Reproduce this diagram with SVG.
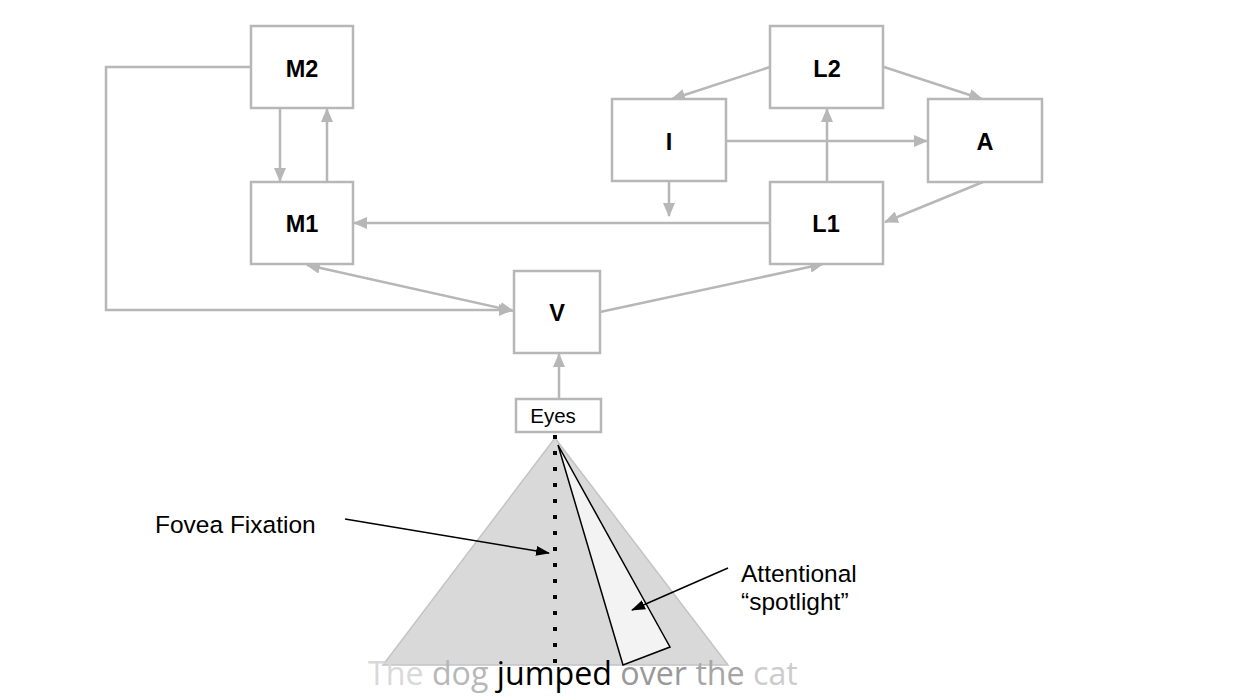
<svg xmlns="http://www.w3.org/2000/svg" width="1259" height="700" viewBox="0 0 1259 700">
<style>
.box{fill:#fff;stroke:#b7b7b7;stroke-width:2.5}
.lbl{font-family:"Liberation Sans",Arial,sans-serif;font-weight:bold;font-size:23.5px;fill:#000;text-anchor:middle}
.txt{font-family:"Liberation Sans",Arial,sans-serif;font-size:24.5px;fill:#000}
.con{fill:none;stroke:#b7b7b7;stroke-width:2.5}
.blk{fill:none;stroke:#000;stroke-width:1.5}
.sent{font-family:"Open Sans",sans-serif;font-size:32.2px}
</style>
<defs>
<marker id="ag" viewBox="0 0 14 12" refX="13" refY="6" markerWidth="14" markerHeight="12" markerUnits="userSpaceOnUse" orient="auto-start-reverse">
<path d="M0,0 L14,6 L0,12 z" fill="#b7b7b7"/>
</marker>
<marker id="ab" viewBox="0 0 14 10" refX="13" refY="5" markerWidth="14" markerHeight="10" markerUnits="userSpaceOnUse" orient="auto">
<path d="M0,0 L14,5 L0,10 z" fill="#000"/>
</marker>
</defs>
<rect width="1259" height="700" fill="#fff"/>

<g id="field">
<polygon points="555,438 383,665 728,665" fill="#d9d9d9" stroke="#c4c4c4" stroke-width="1.5"/>
<polygon points="558,445 623,665 670,647" fill="#f3f3f3" stroke="#000" stroke-width="1.5"/>
<line x1="555" y1="435" x2="555" y2="667" stroke="#000" stroke-width="4" stroke-dasharray="4 12"/>
</g>

<g id="connectors">
<polyline class="con" points="251,67 106,67 106,310 512,310" marker-end="url(#ag)"/>
<line class="con" x1="280" y1="108" x2="280" y2="181" marker-end="url(#ag)"/>
<line class="con" x1="327" y1="182" x2="327" y2="109" marker-end="url(#ag)"/>
<line class="con" x1="307" y1="265" x2="513" y2="311" marker-start="url(#ag)" marker-end="url(#ag)"/>
<line class="con" x1="600" y1="312" x2="823" y2="264" marker-end="url(#ag)"/>
<line class="con" x1="559" y1="399" x2="559" y2="354" marker-end="url(#ag)"/>
<line class="con" x1="770" y1="223" x2="354" y2="223" marker-end="url(#ag)"/>
<line class="con" x1="770" y1="67" x2="672" y2="99" marker-end="url(#ag)"/>
<line class="con" x1="884" y1="67" x2="982" y2="99" marker-end="url(#ag)"/>
<line class="con" x1="726" y1="141" x2="927" y2="141" marker-end="url(#ag)"/>
<line class="con" x1="827" y1="182" x2="827" y2="109" marker-end="url(#ag)"/>
<line class="con" x1="669" y1="182" x2="669" y2="216" marker-end="url(#ag)"/>
<line class="con" x1="983" y1="182" x2="885" y2="222" marker-end="url(#ag)"/>
<line class="blk" x1="345" y1="519" x2="549" y2="553" marker-end="url(#ab)"/>
<line class="blk" x1="728" y1="568" x2="632" y2="610" marker-end="url(#ab)"/>
</g>

<g id="M2"><rect class="box" x="251" y="26" width="102" height="82"/><text class="lbl" x="302" y="77">M2</text></g>
<g id="M1"><rect class="box" x="251" y="182" width="102" height="82"/><text class="lbl" x="302" y="232">M1</text></g>
<g id="L2"><rect class="box" x="770" y="26" width="113" height="82"/><text class="lbl" x="827" y="77">L2</text></g>
<g id="I"><rect class="box" x="612" y="99" width="114" height="82"/><text class="lbl" x="669" y="150">I</text></g>
<g id="A"><rect class="box" x="928" y="99" width="114" height="83"/><text class="lbl" x="985" y="150">A</text></g>
<g id="L1"><rect class="box" x="770" y="182" width="113" height="82"/><text class="lbl" x="826" y="232">L1</text></g>
<g id="V"><rect class="box" x="514" y="271" width="86" height="82"/><text class="lbl" x="557" y="321">V</text></g>
<g id="Eyes"><rect class="box" x="516" y="399" width="85" height="33"/><text class="txt" x="553" y="423" text-anchor="middle" style="font-size:20.5px">Eyes</text></g>

<g id="labels">
<text class="txt" x="155" y="533">Fovea Fixation</text>
<text class="txt" x="741" y="582">Attentional</text>
<text class="txt" x="741" y="610">“spotlight”</text>
</g>

<g id="sentence">
<text class="sent" x="368" y="685"><tspan fill="#d9d9d9">The</tspan> <tspan fill="#b7b7b7">dog</tspan> <tspan fill="#000">jumped</tspan> <tspan fill="#999999">over</tspan> <tspan fill="#a6a6a6">the</tspan> <tspan fill="#cccccc">cat</tspan></text>
</g>
</svg>
